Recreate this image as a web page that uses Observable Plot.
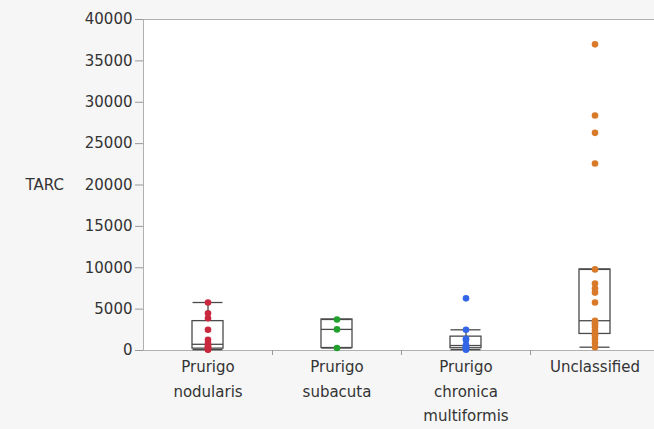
<!DOCTYPE html>
<html><head><meta charset="utf-8">
<script src="https://cdn.jsdelivr.net/npm/d3@7"></script>
<script src="https://cdn.jsdelivr.net/npm/@observablehq/plot@0.6"></script>
<style>
html,body{margin:0;padding:0;background:#f6f6f6;}
#chart{width:654px;height:429px;overflow:hidden;}
</style></head><body><div id="chart"></div>
<script>
const categories = ["Prurigo nodularis", "Prurigo subacuta", "Prurigo chronica multiformis", "Unclassified"];
const categoryLabels = ["Prurigo\nnodularis", "Prurigo\nsubacuta", "Prurigo\nchronica\nmultiformis", "Unclassified"];
const nodularisValues = [100, 150, 200, 300, 450, 600, 900, 1300, 2500, 3900, 4500, 5800];
const subacutaValues = [300, 2550, 3750];
const chronicaValues = [100, 200, 300, 400, 500, 700, 1300, 1400, 2500, 6300];
const unclassifiedValues = [400, 900, 1400, 1800, 2000, 2400, 2800, 3100, 3300, 3600, 5800, 7000, 7500, 8100, 9800, 22600, 26300, 28400, 37000];
const seriesColors = ["#c9283f", "#22a02d", "#3366e6", "#d87a29"];
const yTicks = [0, 5000, 10000, 15000, 20000, 25000, 30000, 35000, 40000];
const yLabel = "TARC";

const valueLists = [nodularisValues, subacutaValues, chronicaValues, unclassifiedValues];
const data = categories.flatMap((c, i) => valueLists[i].map(v => ({group: c, value: v})));
const labelOf = new Map(categories.map((c, i) => [c, categoryLabels[i]]));

function q6(values, p) {
  const s = values.map(Number).filter(v => !isNaN(v)).sort((a, b) => a - b);
  const n = s.length;
  const h = (n + 1) * p;
  if (h <= 1) return s[0];
  if (h >= n) return s[n - 1];
  const lo = Math.floor(h);
  return s[lo - 1] + (h - lo) * (s[lo] - s[lo - 1]);
}
const q1 = v => q6(v, 0.25);
const med = v => q6(v, 0.5);
const q3 = v => q6(v, 0.75);
const loW = v => { const a = q1(v), b = q3(v), f = a - 1.5 * (b - a); return d3.min(v.filter(x => x >= f)); };
const hiW = v => { const a = q1(v), b = q3(v), f = b + 1.5 * (b - a); return d3.max(v.filter(x => x <= f)); };

const boxStroke = "#4a4a4a";
const chart = Plot.plot({
  width: 654, height: 429,
  marginLeft: 143, marginRight: 0, marginTop: 19, marginBottom: 79,
  style: {fontFamily: "DejaVu Sans", fontSize: "15px", color: "#333", background: "transparent"},
  x: {domain: categories, range: [143, 659], padding: 0, label: null},
  y: {domain: [0, 40000], label: null},
  color: {domain: categories, range: seriesColors},
  marks: [
    Plot.frame({fill: "white", stroke: "#b0b0b0"}),
    Plot.axisY({ticks: yTicks, tickFormat: d3.format("d"), tickSize: 8, tickPadding: 3, stroke: "#999", label: null}),
    Plot.axisX({tickSize: 5, tickFormat: () => "", dx: 64.5, stroke: "#999", label: null}),
    Plot.axisX({tickSize: 0, tickPadding: 4, tickFormat: d => labelOf.get(d), lineHeight: 1.64, label: null}),
    Plot.text([yLabel], {frameAnchor: "left", dx: -118, textAnchor: "start", fill: "#333"}),
    Plot.ruleX(data, Plot.groupX({y1: loW, y2: q1}, {x: "group", y1: "value", y2: "value", stroke: boxStroke, strokeWidth: 1.3})),
    Plot.ruleX(data, Plot.groupX({y1: q3, y2: hiW}, {x: "group", y1: "value", y2: "value", stroke: boxStroke, strokeWidth: 1.3})),
    Plot.barY(data, Plot.groupX({y1: q1, y2: q3}, {x: "group", y1: "value", y2: "value", fill: "none", stroke: boxStroke, strokeWidth: 1.3, insetLeft: 49, insetRight: 49})),
    Plot.tickY(data, Plot.groupX({y: med}, {x: "group", y: "value", stroke: boxStroke, strokeWidth: 1.3, insetLeft: 49, insetRight: 49})),
    Plot.tickY(data, Plot.groupX({y: loW}, {x: "group", y: "value", stroke: boxStroke, strokeWidth: 1.3, insetLeft: 49.5, insetRight: 49.5})),
    Plot.tickY(data, Plot.groupX({y: hiW}, {x: "group", y: "value", stroke: boxStroke, strokeWidth: 1.3, insetLeft: 49.5, insetRight: 49.5})),
    Plot.dot(data, {x: "group", y: "value", fill: "group", r: 3.3, stroke: "none"})
  ]
});
document.getElementById("chart").appendChild(chart);
</script></body></html>
